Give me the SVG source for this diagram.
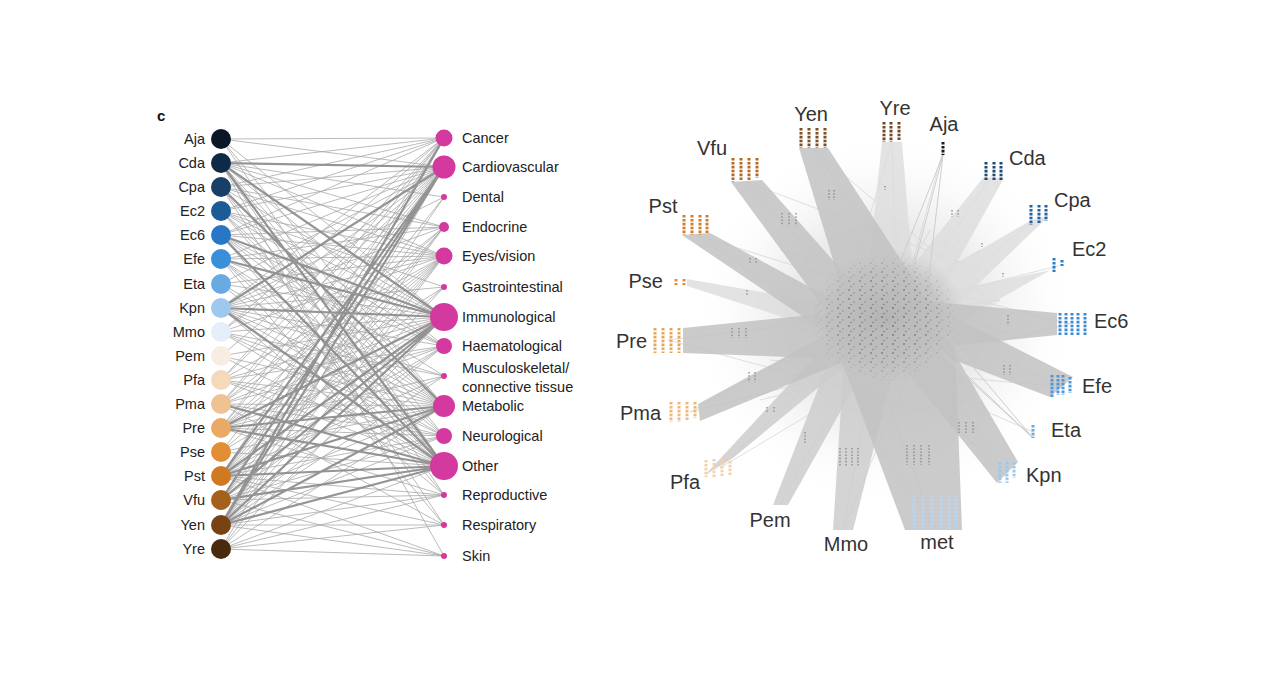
<svg xmlns="http://www.w3.org/2000/svg" width="1280" height="695" viewBox="0 0 1280 695">
<style>
text{font-family:"Liberation Sans",Arial,sans-serif}
.sl{font-size:14.5px;fill:#222;text-anchor:end}
.dl{font-size:14.5px;fill:#222}
.rl{font-size:20px;fill:#333}
.e{fill:none;stroke:#a6a6a6;stroke-width:0.9;stroke-opacity:0.85}
.et{fill:none;stroke:#8a8a8a;stroke-width:2.2;stroke-opacity:0.9}
.d{fill:#d4399f}
.fd{fill:#c2c2c2;fill-opacity:0.85}
.fm{fill:#cdcdcd;fill-opacity:0.85}
.fl{fill:#dcdcdc;fill-opacity:0.8}
.col{fill:none;stroke-width:3;stroke-dasharray:2.6 1.3}
.im{fill:none;stroke:#8e8e8e;stroke-width:1.4;stroke-dasharray:1.6 1.6}
.hl{fill:none;stroke:#d2d2d2;stroke-width:0.7}
</style>
<defs>
<radialGradient id="haze" cx="0.5" cy="0.5" r="0.5">
<stop offset="0" stop-color="#d2d2d2"/>
<stop offset="0.5" stop-color="#e6e6e6"/>
<stop offset="1" stop-color="#ffffff" stop-opacity="0"/>
</radialGradient>
<radialGradient id="core" cx="0.5" cy="0.5" r="0.5">
<stop offset="0" stop-color="#b4b4b4"/>
<stop offset="0.7" stop-color="#c0c0c0" stop-opacity="0.8"/>
<stop offset="1" stop-color="#c8c8c8" stop-opacity="0"/>
</radialGradient>
<radialGradient id="fade" cx="0.5" cy="0.5" r="0.5">
<stop offset="0" stop-color="#fff"/>
<stop offset="0.6" stop-color="#fff" stop-opacity="0.8"/>
<stop offset="1" stop-color="#fff" stop-opacity="0"/>
</radialGradient>
<mask id="speckmask" maskUnits="userSpaceOnUse" x="800" y="240" width="180" height="160">
<ellipse cx="885" cy="318" rx="75" ry="65" fill="url(#fade)"/>
</mask>
<pattern id="specks" width="11" height="9" patternUnits="userSpaceOnUse">
<circle cx="2" cy="2" r="0.9" fill="#707070"/>
<circle cx="7" cy="5" r="0.8" fill="#828282"/>
<circle cx="4" cy="7.5" r="0.7" fill="#666"/>
</pattern>
</defs>
<rect width="1280" height="695" fill="#fff"/>
<text x="157" y="121" style="font-size:15px;font-weight:bold;fill:#111">c</text>

<g id="connectors">
<path class="e" d="M221 139L444 138M221 139L444 167M221 139L444 317M221 139L444 406M221 139L444 466"/>
<path class="e" d="M221 163L444 138M221 163L444 197M221 163L444 227M221 163L444 256M221 163L444 346M221 163L444 406M221 163L444 436M221 163L444 495M221 163L444 556"/>
<path class="e" d="M221 187L444 138M221 187L444 167M221 187L444 227M221 187L444 256M221 187L444 317M221 187L444 466M221 187L444 525"/>
<path class="e" d="M221 211L444 138M221 211L444 167M221 211L444 256M221 211L444 287M221 211L444 317M221 211L444 346M221 211L444 406M221 211L444 436M221 211L444 466"/>
<path class="e" d="M221 235L444 138M221 235L444 167M221 235L444 227M221 235L444 256M221 235L444 346M221 235L444 376M221 235L444 406M221 235L444 495"/>
<path class="e" d="M221 259L444 167M221 259L444 227M221 259L444 256M221 259L444 346M221 259L444 406M221 259L444 436M221 259L444 466M221 259L444 525"/>
<path class="e" d="M221 284L444 167M221 284L444 256M221 284L444 317M221 284L444 406M221 284L444 466"/>
<path class="e" d="M221 308L444 138M221 308L444 197M221 308L444 227M221 308L444 256M221 308L444 287M221 308L444 346M221 308L444 376M221 308L444 406M221 308L444 436M221 308L444 495"/>
<path class="e" d="M221 332L444 138M221 332L444 167M221 332L444 256M221 332L444 317M221 332L444 376M221 332L444 406M221 332L444 436M221 332L444 466"/>
<path class="e" d="M221 356L444 167M221 356L444 317M221 356L444 406M221 356L444 466"/>
<path class="e" d="M221 380L444 138M221 380L444 167M221 380L444 256M221 380L444 317M221 380L444 346M221 380L444 406M221 380L444 436M221 380L444 466"/>
<path class="e" d="M221 404L444 138M221 404L444 167M221 404L444 227M221 404L444 256M221 404L444 317M221 404L444 346M221 404L444 406M221 404L444 436M221 404L444 525"/>
<path class="e" d="M221 428L444 138M221 428L444 167M221 428L444 227M221 428L444 256M221 428L444 287M221 428L444 346M221 428L444 376M221 428L444 436M221 428L444 495"/>
<path class="e" d="M221 452L444 167M221 452L444 256M221 452L444 317M221 452L444 406M221 452L444 466"/>
<path class="e" d="M221 476L444 138M221 476L444 197M221 476L444 227M221 476L444 256M221 476L444 287M221 476L444 346M221 476L444 376M221 476L444 436M221 476L444 495M221 476L444 525M221 476L444 556"/>
<path class="e" d="M221 500L444 138M221 500L444 227M221 500L444 256M221 500L444 346M221 500L444 406M221 500L444 436M221 500L444 495M221 500L444 556"/>
<path class="e" d="M221 525L444 197M221 525L444 227M221 525L444 256M221 525L444 287M221 525L444 346M221 525L444 376M221 525L444 436M221 525L444 495M221 525L444 525M221 525L444 556"/>
<path class="e" d="M221 549L444 167M221 549L444 256M221 549L444 317M221 549L444 406M221 549L444 466M221 549L444 495M221 549L444 525M221 549L444 556"/>
<path class="et" d="M221 163L444 167M221 163L444 317M221 163L444 466M221 308L444 167M221 308L444 317M221 308L444 466M221 476L444 167M221 476L444 317M221 476L444 406M221 476L444 466M221 500L444 167M221 500L444 317M221 500L444 466M221 525L444 138M221 525L444 167M221 525L444 317M221 525L444 406M221 525L444 466M221 235L444 317M221 235L444 466M221 428L444 317M221 428L444 406M221 428L444 466M221 404L444 466M221 259L444 317M221 187L444 406"/>
</g>

<g id="species">
<g id="n-Aja"><circle cx="221" cy="139" r="10" fill="#0b1626"/><text class="sl" x="205" y="144">Aja</text></g>
<g id="n-Cda"><circle cx="221" cy="163" r="10" fill="#0f2a46"/><text class="sl" x="205" y="168">Cda</text></g>
<g id="n-Cpa"><circle cx="221" cy="187" r="10" fill="#173f68"/><text class="sl" x="205" y="192">Cpa</text></g>
<g id="n-Ec2"><circle cx="221" cy="211" r="10" fill="#1c5b96"/><text class="sl" x="205" y="216">Ec2</text></g>
<g id="n-Ec6"><circle cx="221" cy="235" r="10" fill="#2777c6"/><text class="sl" x="205" y="240">Ec6</text></g>
<g id="n-Efe"><circle cx="221" cy="259" r="10" fill="#3a8fd9"/><text class="sl" x="205" y="264">Efe</text></g>
<g id="n-Eta"><circle cx="221" cy="284" r="10" fill="#6aaae2"/><text class="sl" x="205" y="289">Eta</text></g>
<g id="n-Kpn"><circle cx="221" cy="308" r="10" fill="#9ec8ee"/><text class="sl" x="205" y="313">Kpn</text></g>
<g id="n-Mmo"><circle cx="221" cy="332" r="10" fill="#e4eff9"/><text class="sl" x="205" y="337">Mmo</text></g>
<g id="n-Pem"><circle cx="221" cy="356" r="10" fill="#f8ede2"/><text class="sl" x="205" y="361">Pem</text></g>
<g id="n-Pfa"><circle cx="221" cy="380" r="10" fill="#f4d9bb"/><text class="sl" x="205" y="385">Pfa</text></g>
<g id="n-Pma"><circle cx="221" cy="404" r="10" fill="#eec391"/><text class="sl" x="205" y="409">Pma</text></g>
<g id="n-Pre"><circle cx="221" cy="428" r="10" fill="#e9aa66"/><text class="sl" x="205" y="433">Pre</text></g>
<g id="n-Pse"><circle cx="221" cy="452" r="10" fill="#e38e34"/><text class="sl" x="205" y="457">Pse</text></g>
<g id="n-Pst"><circle cx="221" cy="476" r="10" fill="#cf7a20"/><text class="sl" x="205" y="481">Pst</text></g>
<g id="n-Vfu"><circle cx="221" cy="500" r="10" fill="#a5601b"/><text class="sl" x="205" y="505">Vfu</text></g>
<g id="n-Yen"><circle cx="221" cy="525" r="10" fill="#784313"/><text class="sl" x="205" y="530">Yen</text></g>
<g id="n-Yre"><circle cx="221" cy="549" r="10" fill="#4a2a0c"/><text class="sl" x="205" y="554">Yre</text></g>
</g>

<g id="diseases">
<g id="d-Cancer"><circle class="d" cx="444" cy="138" r="8.5"/><text class="dl" x="462" y="143">Cancer</text></g>
<g id="d-Cardiovascular"><circle class="d" cx="444" cy="167" r="11.5"/><text class="dl" x="462" y="172">Cardiovascular</text></g>
<g id="d-Dental"><circle class="d" cx="444" cy="197" r="3"/><text class="dl" x="462" y="202">Dental</text></g>
<g id="d-Endocrine"><circle class="d" cx="444" cy="227" r="5"/><text class="dl" x="462" y="232">Endocrine</text></g>
<g id="d-Eyes"><circle class="d" cx="444" cy="256" r="8.5"/><text class="dl" x="462" y="261">Eyes/vision</text></g>
<g id="d-Gastro"><circle class="d" cx="444" cy="287" r="3"/><text class="dl" x="462" y="292">Gastrointestinal</text></g>
<g id="d-Immuno"><circle class="d" cx="444" cy="317" r="14"/><text class="dl" x="462" y="322">Immunological</text></g>
<g id="d-Haema"><circle class="d" cx="444" cy="346" r="8"/><text class="dl" x="462" y="351">Haematological</text></g>
<g id="d-Musculo"><circle class="d" cx="444" cy="376" r="3"/><text class="dl" x="462" y="373">Musculoskeletal/</text><text class="dl" x="462" y="392">connective tissue</text></g>
<g id="d-Metabolic"><circle class="d" cx="444" cy="406" r="11"/><text class="dl" x="462" y="411">Metabolic</text></g>
<g id="d-Neuro"><circle class="d" cx="444" cy="436" r="8"/><text class="dl" x="462" y="441">Neurological</text></g>
<g id="d-Other"><circle class="d" cx="444" cy="466" r="14"/><text class="dl" x="462" y="471">Other</text></g>
<g id="d-Repro"><circle class="d" cx="444" cy="495" r="3"/><text class="dl" x="462" y="500">Reproductive</text></g>
<g id="d-Resp"><circle class="d" cx="444" cy="525" r="3"/><text class="dl" x="462" y="530">Respiratory</text></g>
<g id="d-Skin"><circle class="d" cx="444" cy="556" r="3"/><text class="dl" x="462" y="561">Skin</text></g>
</g>

<g id="network">
<ellipse cx="885" cy="320" rx="195" ry="190" fill="url(#haze)" opacity="0.8"/>
<path class="hl" d="M813 148L960 360M813 148L990 300M746 182L930 380M746 182L980 270M696 235L940 400M696 235L1000 330M668 340L1000 300M668 340L960 420M690 412L980 250M690 412L1010 330M720 468L960 240M720 468L1000 300M780 505L930 230M843 530L900 230M843 530L960 250M935 528L830 250M935 528L780 300M1007 478L810 280M1007 478L850 230M1033 432L780 320M1062 387L790 260M1062 387L770 360M1070 324L780 250M1070 324L760 400M1058 266L800 330M1040 215L820 400M994 172L830 420M943 150L870 420M892 142L900 420M892 142L820 380"/>
<g id="fans">
<polygon class="fl" points="687,279 687,286 870,345 865,310"/>
<polygon class="fl" points="882,142 902,142 915,300 865,300"/>
<polygon class="fl" points="983,178 1004,178 925,320 885,300"/>
<polygon class="fl" points="1028,222 1050,215 930,330 895,300"/>
<polygon class="fl" points="1052,270 1065,262 935,335 905,300"/>
<polygon class="fm" points="833,530 853,530 900,345 845,345"/>
<polygon class="fm" points="773,505 788,505 875,350 835,345"/>
<polygon class="fm" points="705,475 733,458 870,345 835,335"/>
<polygon class="fd" points="799,148 828,148 940,320 850,315"/>
<polygon class="fd" points="731,182 762,180 890,325 840,330"/>
<polygon class="fd" points="682,235 710,233 880,325 845,345"/>
<polygon class="fd" points="683,328 683,353 870,360 860,310"/>
<polygon class="fd" points="698,404 700,421 860,355 835,330"/>
<polygon class="fd" points="905,530 962,530 955,345 830,330"/>
<polygon class="fd" points="1057,313 1057,335 910,350 910,300"/>
<polygon class="fd" points="1050,397 1073,377 930,305 915,345"/>
<polygon class="fd" points="997,483 1018,462 935,320 890,350"/>
<path d="M943 155L885 300M943 155L905 300M943 155L925 310M1033 438L915 330M1033 438L935 345M1033 438L925 310" fill="none" stroke="#cdcdcd" stroke-width="1"/>
</g>
<ellipse cx="885" cy="318" rx="80" ry="70" fill="url(#core)"/>
<rect x="800" y="240" width="180" height="160" fill="url(#specks)" mask="url(#speckmask)"/>
<g id="intermediate">
<path class="im" d="M829 190v10M834 190v10M782 213v12M789 213v12M796 213v12M750 258v6M756 258v6M747 290v6M732 328v10M739 328v10M746 328v10M749 372v10M755 372v10M767 407v6M774 407v6M805 432v11M840 448v18M846 448v18M852 448v18M858 448v18M907 445v20M914 445v20M921 445v20M929 445v20M959 422v11M966 422v11M973 422v11M1004 365v10M1010 365v10M1008 315v10M952 210v7M958 210v7M982 243v4M1003 273v4M885 186v4"/>
</g>
<g id="clusters">
<path class="col" stroke="#7e4f22" d="M801 128v20M809 128v20M817 128v20M825 128v20"/>
<path class="col" stroke="#6e4a24" d="M884 122v20M891 122v20M899 122v18"/>
<path class="col" stroke="#b36a22" d="M733 158v24M741 158v22M749 158v22M757 158v20"/>
<path class="col" stroke="#d07e2c" d="M684 215v20M692 215v20M700 215v20M707 215v18"/>
<path class="col" stroke="#e28e3c" d="M676 279v6M684 279v6"/>
<path class="col" stroke="#e9a860" d="M655 328v25M663 328v25M671 328v25M679 328v25"/>
<path class="col" stroke="#eeba7c" d="M671 402v20M679 402v20M687 402v18M695 402v16"/>
<path class="col" stroke="#f3d2aa" d="M706 460v17M714 459v18M722 458v18M730 457v18"/>
<path class="col" stroke="#1a1a24" d="M943 142v13"/>
<path class="col" stroke="#1e4a78" d="M986 162v18M994 162v18M1001 162v18"/>
<path class="col" stroke="#2262a2" d="M1031 205v20M1039 205v18M1046 205v16"/>
<path class="col" stroke="#2d7cca" d="M1054 258v14M1062 260v6"/>
<path class="col" stroke="#3b8bd8" d="M1060 313v22M1066 313v22M1072 313v22M1078 313v22M1085 313v22"/>
<path class="col" stroke="#4b98e0" d="M1052 375v22M1058 375v20M1063 375v20M1070 377v16"/>
<path class="col" stroke="#6aaae2" d="M1033 425v13"/>
<path class="col" stroke="#9cc8ee" d="M1000 462v21M1007 462v21M1014 462v16"/>
<path class="col" stroke="#b6d6f3" d="M914 495v34M923 495v34M932 495v34M941 495v34M949 495v34M956 495v32"/>
</g>
<g id="net-labels">
<text class="rl" x="811" y="121" text-anchor="middle">Yen</text>
<text class="rl" x="895" y="115" text-anchor="middle">Yre</text>
<text class="rl" x="944" y="131" text-anchor="middle">Aja</text>
<text class="rl" x="1009" y="165">Cda</text>
<text class="rl" x="1054" y="207">Cpa</text>
<text class="rl" x="1072" y="256">Ec2</text>
<text class="rl" x="1094" y="328">Ec6</text>
<text class="rl" x="1082" y="393">Efe</text>
<text class="rl" x="1051" y="437">Eta</text>
<text class="rl" x="1026" y="482">Kpn</text>
<text class="rl" x="937" y="549" text-anchor="middle">met</text>
<text class="rl" x="846" y="551" text-anchor="middle">Mmo</text>
<text class="rl" x="770" y="527" text-anchor="middle">Pem</text>
<text class="rl" x="685" y="489" text-anchor="middle">Pfa</text>
<text class="rl" x="661" y="420" text-anchor="end">Pma</text>
<text class="rl" x="647" y="348" text-anchor="end">Pre</text>
<text class="rl" x="663" y="288" text-anchor="end">Pse</text>
<text class="rl" x="663" y="213" text-anchor="middle">Pst</text>
<text class="rl" x="712" y="155" text-anchor="middle">Vfu</text>
</g>
</g>
</svg>
